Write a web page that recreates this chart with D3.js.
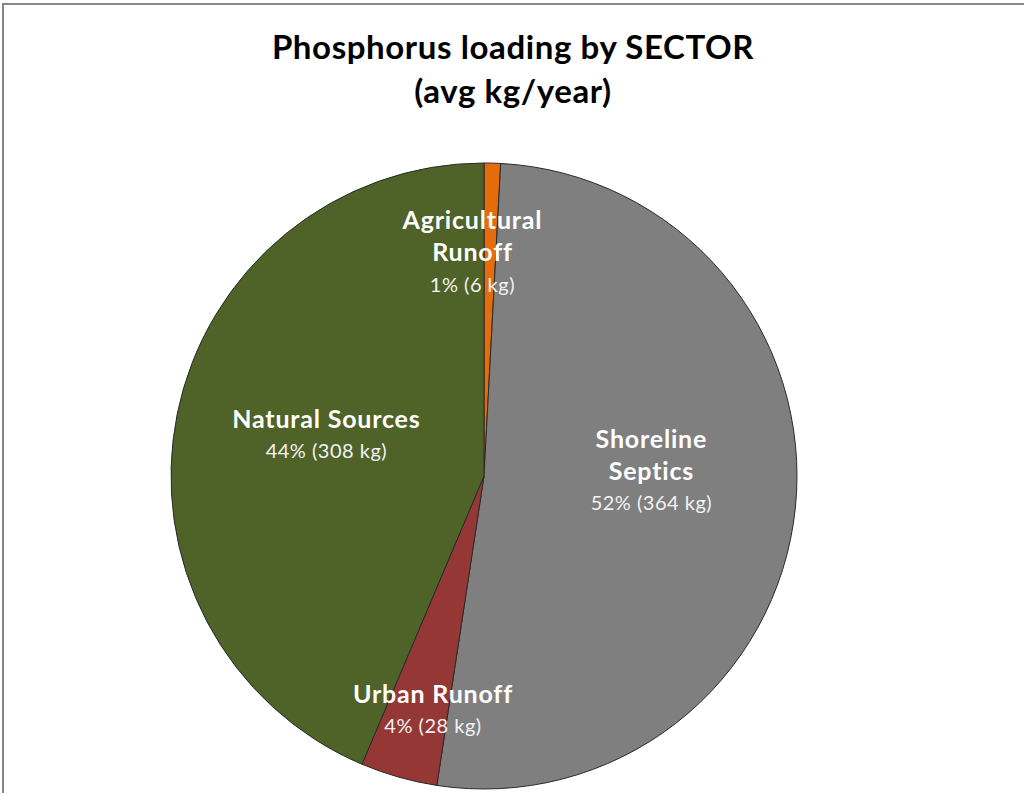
<!DOCTYPE html>
<html><head><meta charset="utf-8">
<script src="https://cdn.jsdelivr.net/npm/d3@7"></script>
<style>html,body{margin:0;padding:0;background:#fff;overflow:hidden}</style>
</head><body>
<script>
const categories = ["Agricultural Runoff", "Shoreline Septics", "Urban Runoff", "Natural Sources"];
const values = [6, 364, 28, 308];
const labelLines = [["Agricultural", "Runoff"], ["Shoreline", "Septics"], ["Urban Runoff"], ["Natural Sources"]];
const colors = ["#E46C0A", "#7F7F7F", "#953735", "#4F6228"];
const titleLines = ["Phosphorus loading by SECTOR", "(avg kg/year)"];

// label layout (angle shift in degrees, radius fraction)
const labelLayout = [
  {dAng: -4.5, rf: 0.715},
  {dAng: -7.5, rf: 0.535},
  {dAng: -3.5, rf: 0.765},
  {dAng: 3.0, rf: 0.52}
];

const W = 1024, H = 793;
const cx = 484, cy = 476, R = 313;
const font = "Lato, 'Open Sans', sans-serif";

const svg = d3.select("body").append("svg").attr("width", W).attr("height", H);
svg.append("rect").attr("width", W).attr("height", H).attr("fill", "#fff");
svg.append("path").attr("d", `M3,${H} L3,4 L${W},4`).attr("fill", "none")
  .attr("stroke", "#878787").attr("stroke-width", 2);

const title = svg.append("text").attr("text-anchor", "middle")
  .attr("font-family", font).attr("font-weight", "bold").attr("font-size", 33)
  .attr("letter-spacing", 0.6).attr("fill", "#000");
titleLines.forEach((t, i) => title.append("tspan").attr("x", 513).attr("y", 59 + i * 44).text(t));

const total = d3.sum(values);
const pie = d3.pie().sort(null).value(d => d);
const arcs = pie(values);
const arc = d3.arc().innerRadius(0).outerRadius(R);
const g = svg.append("g").attr("transform", `translate(${cx},${cy})`);

g.selectAll("path").data(arcs).join("path")
  .attr("d", arc).attr("fill", (d, i) => colors[i])
  .attr("stroke", "#2a2a2a").attr("stroke-width", 1);

arcs.forEach((d, i) => {
  const mid = (d.startAngle + d.endAngle) / 2 + labelLayout[i].dAng * Math.PI / 180;
  const r = R * labelLayout[i].rf;
  const x = Math.sin(mid) * r, y = -Math.cos(mid) * r;
  const lines = labelLines[i];
  const pct = Math.round(values[i] / total * 100);
  const n = lines.length + 1;
  const lh = 32;
  const top = y - (n - 1) * lh / 2;
  const t = g.append("text").attr("text-anchor", "middle").attr("font-family", font).attr("fill", "#fff");
  lines.forEach((l, k) => {
    t.append("tspan").attr("x", x).attr("y", top + k * lh).attr("dy", "0.35em")
      .attr("font-size", 25).attr("letter-spacing", 0.8).attr("font-weight", "bold").text(l);
  });
  t.append("tspan").attr("x", x).attr("y", top + lines.length * lh).attr("dy", "0.35em")
    .attr("font-size", 20).attr("letter-spacing", 0.5).attr("fill", "#f2f2f2").text(`${pct}% (${values[i]} kg)`);
});
</script>
</body></html>
